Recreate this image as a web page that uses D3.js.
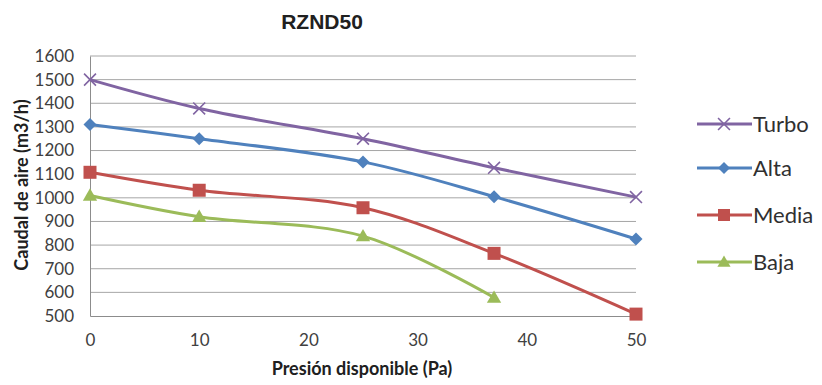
<!DOCTYPE html>
<html>
<head>
<meta charset="utf-8">
<script src="https://cdn.jsdelivr.net/npm/d3@7"></script>
<style>
  body { margin: 0; background: #fff; }
  svg { display: block; }
</style>
</head>
<body>
<div id="container"></div>
<script>
// pressure points (Pa)
var presion = [0, 10, 25, 37, 50];
var turbo = [1500, 1378, 1250, 1127, 1003];
var alta = [1310, 1250, 1152, 1005, 826];
var media = [1108, 1032, 958, 765, 508];
var baja = [1010, 920, 838, 578];
var yTicks = [500, 600, 700, 800, 900, 1000, 1100, 1200, 1300, 1400, 1500, 1600];
var xTicks = [0, 10, 20, 30, 40, 50];

var series = [
	{name: "Turbo", values: turbo, color: "#8064A2", marker: "x"},
	{name: "Alta", values: alta, color: "#4F81BD", marker: "diamond"},
	{name: "Media", values: media, color: "#C0504D", marker: "square"},
	{name: "Baja", values: baja, color: "#9BBB59", marker: "triangle"}
];

var width = 822,
	height = 385,
	plotLeft = 90,
	plotRight = 636,
	plotTop = 56,
	plotBottom = 316;

var xScale = d3.scaleLinear().domain([0, 50]).range([plotLeft, plotRight]);
var yScale = d3.scaleLinear().domain([500, 1600]).range([plotBottom, plotTop]);

var svg = d3.select("#container")
	.append("svg")
		.attr("width", width)
		.attr("height", height);

// grid
svg.append("g")
	.selectAll("line")
	.data(yTicks.slice(1))
	.enter().append("line")
		.attr("x1", plotLeft)
		.attr("x2", plotRight)
		.attr("y1", function(d){ return yScale(d) })
		.attr("y2", function(d){ return yScale(d) })
		.style("stroke", "#a6a6a6")
		.style("stroke-width", 1);

// axes
var yAxis = svg.append("g")
	.attr("transform", "translate(" + plotLeft + ",0)")
	.call(d3.axisLeft(yScale).tickValues(yTicks).tickFormat(d3.format("d")).tickSize(0).tickPadding(16));
var xAxis = svg.append("g")
	.attr("transform", "translate(0," + plotBottom + ")")
	.call(d3.axisBottom(xScale).tickValues(xTicks).tickSize(0).tickPadding(18));

[yAxis, xAxis].forEach(function(ax){
	ax.select(".domain").style("stroke", "#8c8c8c").style("stroke-width", 1);
	ax.selectAll("text")
		.style("font-family", "Lato, 'Open Sans', sans-serif")
		.style("font-size", "17px")
		.style("fill", "#404040");
});

var line = d3.line()
	.x(function(d, i){ return xScale(presion[i]) })
	.y(function(d){ return yScale(d) })
	.curve(d3.curveCatmullRom.alpha(0.5));

function drawMarker(g, type, color, size) {
	if (type == "x") {
		var s = size * 0.85;
		g.append("path")
			.attr("d", "M" + (-s) + "," + (-s) + "L" + s + "," + s + "M" + (-s) + "," + s + "L" + s + "," + (-s))
			.style("stroke", color)
			.style("stroke-width", 1.6)
			.style("fill", "none");
	} else if (type == "diamond") {
		g.append("path")
			.attr("d", "M0," + (-size) + "L" + size + ",0L0," + size + "L" + (-size) + ",0Z")
			.style("fill", color);
	} else if (type == "square") {
		g.append("rect")
			.attr("x", -size).attr("y", -size)
			.attr("width", size * 2).attr("height", size * 2)
			.style("fill", color);
	} else {
		g.append("path")
			.attr("d", "M0," + (-size * 1.1) + "L" + size * 1.1 + "," + size * 0.8 + "L" + (-size * 1.1) + "," + size * 0.8 + "Z")
			.style("fill", color);
	}
}

series.forEach(function(s){
	svg.append("path")
		.datum(s.values)
		.attr("d", line)
		.style("fill", "none")
		.style("stroke", s.color)
		.style("stroke-width", 3);
	svg.append("g")
		.selectAll("g")
		.data(s.values)
		.enter().append("g")
			.attr("transform", function(d, i){
				return "translate(" + xScale(presion[i]) + "," + yScale(d) + ")"
			})
			.each(function(){
				drawMarker(d3.select(this), s.marker, s.color, s.marker == "x" ? 7 : 6.5);
			});
});

// legend
var legend = svg.append("g")
	.selectAll("g")
	.data(series)
	.enter().append("g")
		.attr("transform", function(d, i){
			return "translate(697," + [124, 168, 215, 262][i] + ")"
		});
legend.append("line")
	.attr("x1", 0).attr("x2", 55)
	.style("stroke", function(d){ return d.color })
	.style("stroke-width", 3);
legend.each(function(d){
	var g = d3.select(this).append("g").attr("transform", "translate(27,0)");
	drawMarker(g, d.marker, d.color, d.marker == "x" ? 7 : 6);
});
legend.append("text")
	.attr("x", 56)
	.attr("dy", "0.36em")
	.text(function(d){ return d.name })
	.style("font-family", "Lato, 'Open Sans', sans-serif")
	.style("font-size", "22px")
	.style("fill", "#303030");

// titles
svg.append("text")
	.attr("x", 322).attr("y", 29)
	.attr("text-anchor", "middle")
	.text("RZND50")
	.style("font-family", "'Liberation Sans', Arial, sans-serif")
	.style("font-weight", "bold")
	.style("font-size", "21px")
	.style("fill", "#202020");

svg.append("text")
	.attr("x", 362).attr("y", 375)
	.attr("text-anchor", "middle")
	.text("Presión disponible (Pa)")
	.style("font-family", "Lato, 'Open Sans', sans-serif")
	.style("font-weight", "bold")
	.style("font-size", "18px")
	.style("fill", "#202020");

svg.append("text")
	.attr("transform", "translate(28,185) rotate(-90)")
	.attr("text-anchor", "middle")
	.text("Caudal de aire (m3/h)")
	.style("font-family", "Lato, 'Open Sans', sans-serif")
	.style("font-weight", "bold")
	.style("font-size", "18px")
	.style("fill", "#202020");
</script>
</body>
</html>
